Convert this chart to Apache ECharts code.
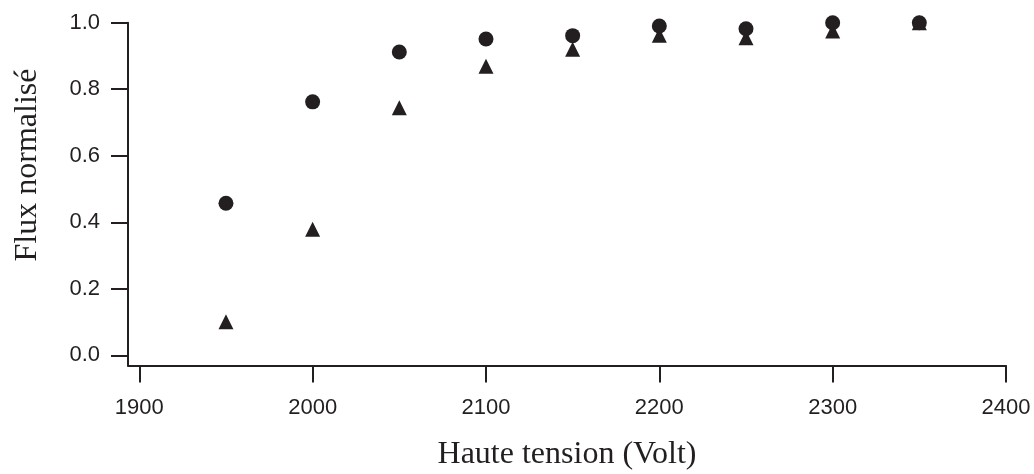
<!DOCTYPE html>
<html>
<head>
<meta charset="utf-8">
<style>
  html, body { margin: 0; padding: 0; background: #ffffff; }
  #chart { width: 1034px; height: 474px; }
</style>
<script src="https://cdn.jsdelivr.net/npm/echarts@6/dist/echarts.min.js"></script>
</head>
<body>
<div id="chart"></div>
<script>
// High voltage settings (V)
const voltages = [1950, 2000, 2050, 2100, 2150, 2200, 2250, 2300, 2350];
// Normalised flux, first detector (circles)
const fluxCircles = [0.457, 0.762, 0.912, 0.951, 0.961, 0.990, 0.982, 1.000, 1.000];
// Normalised flux, second detector (triangles)
const fluxTriangles = [0.101, 0.379, 0.744, 0.869, 0.920, 0.962, 0.955, 0.975, 1.000];
// Axis tick values
const xTicks = [1900, 2000, 2100, 2200, 2300, 2400];
const yTicks = [0.0, 0.2, 0.4, 0.6, 0.8, 1.0];

const ink = '#231f20';
const sans = '"Liberation Sans", Arial, Helvetica, sans-serif';
const serif = '"Liberation Serif", "Times New Roman", Times, serif';

const chart = echarts.init(document.getElementById('chart'), null, { renderer: 'canvas' });

const pairs = (ys) => voltages.map((v, i) => [v, ys[i]]);

chart.setOption({
  animation: false,
  backgroundColor: '#ffffff',
  grid: {
    left: 128, right: 28, top: 22.7, bottom: 108.5,
    containLabel: false,
    outerBoundsMode: 'none'
  },
  xAxis: {
    type: 'value',
    min: 1893.48,
    max: 2400,
    splitLine: { show: false },
    axisLine: { show: true, onZero: false, lineStyle: { color: ink, width: 2 } },
    axisTick: {
      show: true, inside: false, length: 17,
      customValues: xTicks,
      lineStyle: { color: ink, width: 2 }
    },
    axisLabel: {
      show: true, margin: 31,
      customValues: xTicks,
      color: ink, fontFamily: sans, fontSize: 22,
      formatter: (v) => String(v)
    }
  },
  yAxis: {
    type: 'value',
    min: -0.0307,
    max: 1.0,
    splitLine: { show: false },
    axisLine: { show: true, onZero: false, lineStyle: { color: ink, width: 2 } },
    axisTick: {
      show: true, inside: false, length: 17,
      customValues: yTicks,
      lineStyle: { color: ink, width: 2 }
    },
    axisLabel: {
      show: true, margin: 28,
      customValues: yTicks,
      color: ink, fontFamily: sans, fontSize: 22,
      formatter: (v) => v.toFixed(1)
    }
  },
  series: [
    {
      name: 'triangles',
      type: 'scatter',
      symbol: 'triangle',
      symbolSize: 15,
      itemStyle: { color: ink, opacity: 1 },
      data: pairs(fluxTriangles),
      z: 2
    },
    {
      name: 'circles',
      type: 'scatter',
      symbol: 'circle',
      symbolSize: 15,
      itemStyle: { color: ink, opacity: 1 },
      data: pairs(fluxCircles),
      z: 3
    }
  ],
  graphic: [
    {
      type: 'text',
      x: 567, y: 455,
      style: {
        text: 'Haute tension (Volt)',
        fill: ink, font: '32px ' + serif,
        align: 'center', verticalAlign: 'middle'
      }
    },
    {
      type: 'text',
      x: 28, y: 165,
      rotation: Math.PI / 2,
      style: {
        text: 'Flux normalisé',
        fill: ink, font: '32px ' + serif,
        align: 'center', verticalAlign: 'middle'
      }
    }
  ]
});
</script>
</body>
</html>
